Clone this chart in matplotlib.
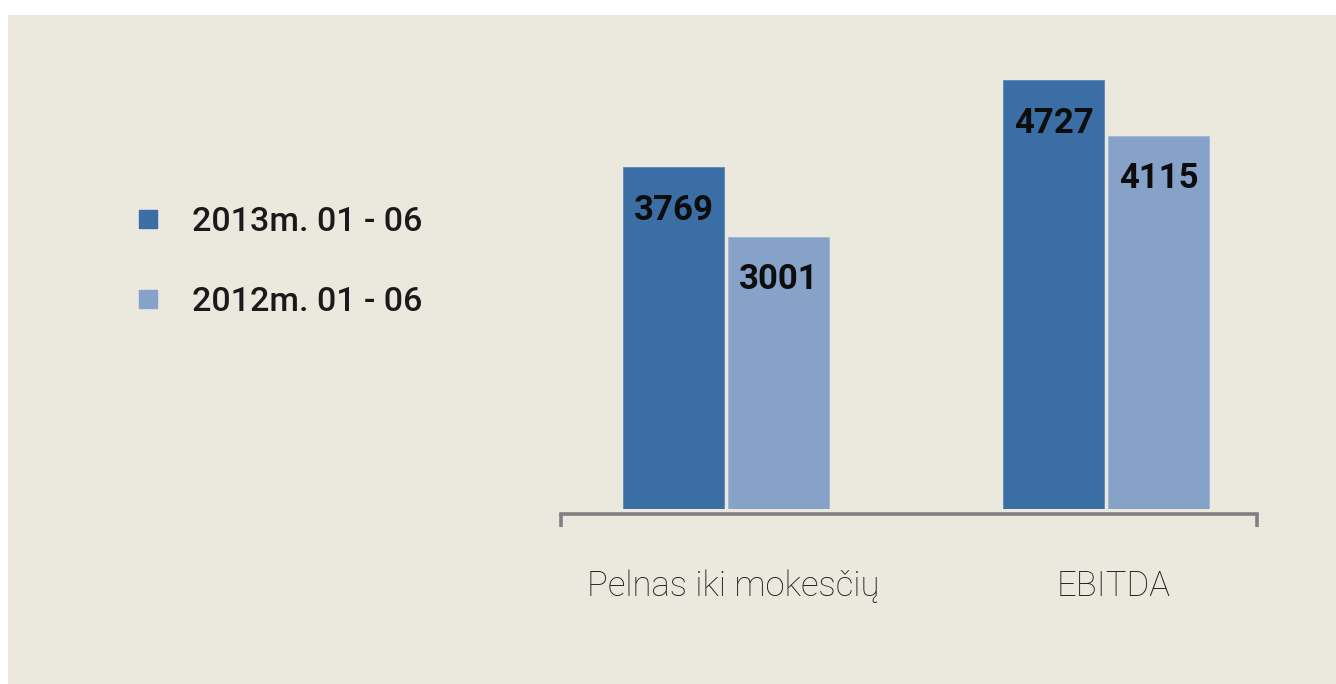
import matplotlib.pyplot as plt
import numpy as np
from matplotlib.lines import Line2D
from matplotlib.patches import Rectangle

# data
categories = ['Pelnas iki mokesčių', 'EBITDA']
series_names = ['2013m. 01 - 06', '2012m. 01 - 06']
values_2013 = [3769, 4727]
values_2012 = [3001, 4115]

colors = ['#3a6ea5', '#86a2c9']
bg = '#ebe9dd'
font = 'Roboto'

fig = plt.figure(figsize=(13.36, 6.84), dpi=100, facecolor='white')
# beige panel (leaves a thin white strip top and left)
fig.patches.append(Rectangle((8 / 1336, 0), 1, 1 - 15 / 684, transform=fig.transFigure,
                             facecolor=bg, edgecolor='none', zorder=-10))

ax = fig.add_axes([561 / 1336, (684 - 509) / 684, 696 / 1336, (509 - 15) / 684])
ax.set_facecolor('none')

x = np.arange(len(categories))
w = 0.266
gap = 0.0105
b1 = ax.bar(x - w / 2 - gap / 2, values_2013, w, color=colors[0], edgecolor='#5a86b5', linewidth=0.6)
b2 = ax.bar(x + w / 2 + gap / 2, values_2012, w, color=colors[1], edgecolor='#a0b6d6', linewidth=0.6)

# value labels inside the bars, near the top
for bars, vals in [(b1, values_2013), (b2, values_2012)]:
    for r, v in zip(bars, vals):
        ax.annotate(str(v), (r.get_x() + r.get_width() / 2, v), xytext=(0, -31),
                    textcoords='offset points', ha='center', va='center',
                    fontsize=25, fontweight='bold', family=font, color='#0d0d0d')

ax.set_xlim(-0.434, 1.397)
ax.set_ylim(0, 5446)

for s in ['top', 'right', 'left']:
    ax.spines[s].set_visible(False)
ax.spines['bottom'].set_position(('outward', 3.5))
ax.spines['bottom'].set_color('#808080')
ax.spines['bottom'].set_linewidth(2.6)
ax.set_yticks([])

ax.set_xticks(x + 0.02)
ax.set_xticklabels(categories, fontsize=25, family=font, fontweight='light', color='#1e1e1e')
ax.tick_params(axis='x', which='major', length=0, pad=40)
# end ticks of the axis line
ax.set_xticks(list(ax.get_xlim()), minor=True)
ax.tick_params(axis='x', which='minor', length=9.5, width=2.6, color='#808080', direction='out')

handles = [Line2D([], [], marker='s', linestyle='none', markersize=13, color=c) for c in colors]
leg = fig.legend(handles, series_names, loc='center left', bbox_to_anchor=(100 / 1336, 1 - 262 / 684),
                 frameon=False, prop={'family': font, 'size': 24.5, 'weight': 'medium'},
                 handlelength=1.0, handletextpad=0.8, labelspacing=1.39)
for t in leg.get_texts():
    t.set_color('#1a1a1a')

fig.savefig('out.png', dpi=100, facecolor='white')
